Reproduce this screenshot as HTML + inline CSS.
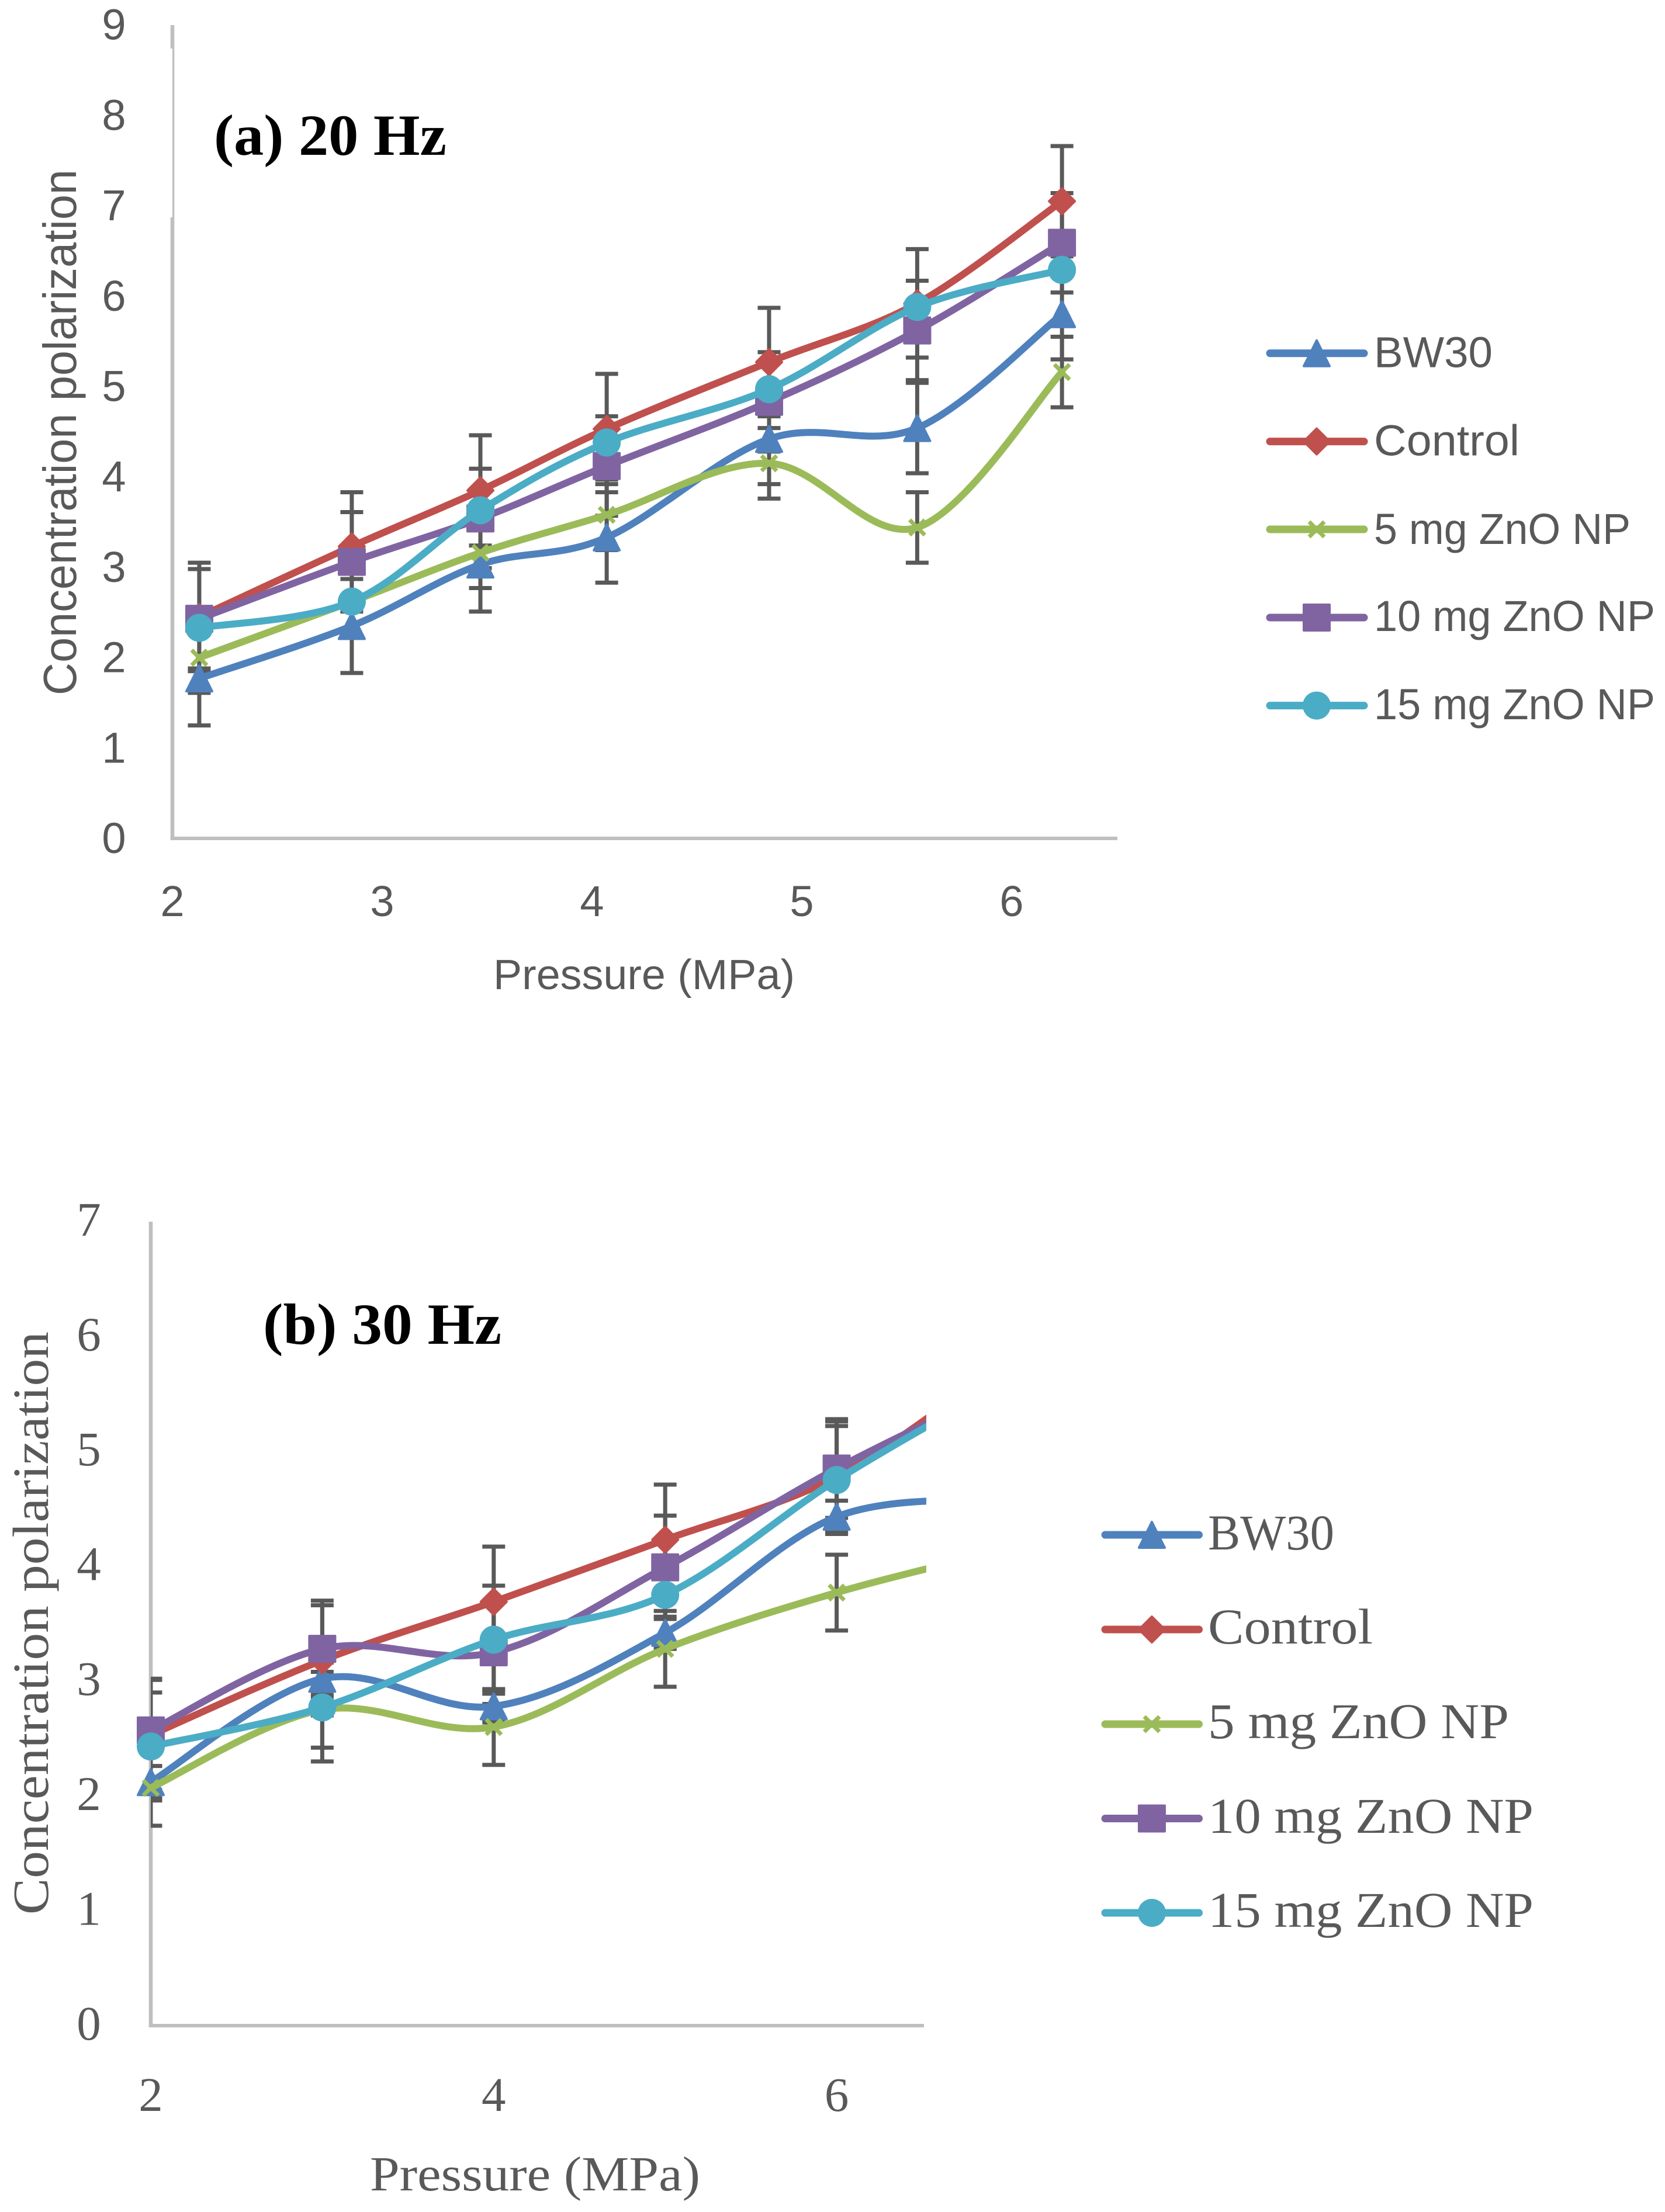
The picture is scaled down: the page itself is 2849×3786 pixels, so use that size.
<!DOCTYPE html>
<html lang="en">
<head>
<meta charset="utf-8">
<title>Concentration polarization vs pressure</title>
<style>
html,body{margin:0;padding:0;background:#fff;}
svg{display:block;}
</style>
</head>
<body>
<svg id="figure" xmlns="http://www.w3.org/2000/svg" width="2849" height="3786" viewBox="0 0 2849 3786">
  <rect x="0" y="0" width="2849" height="3786" fill="#ffffff"/>
  <defs>
    <clipPath id="clip-b-lines"><rect x="0" y="2000" width="1585" height="1500"/></clipPath>
    <clipPath id="clip-b-bars"><rect x="258" y="2000" width="1327" height="1500"/></clipPath>
  </defs>
  <g id="chart-a"></g>
  <g id="chart-b"></g>
</svg>
<script>
// ---------- Chart (a) 20 Hz data ----------
const aPressure = [2.128, 2.855, 3.468, 4.07, 4.844, 5.55, 6.24];
const aBW30    = [1.77, 2.35, 3.03, 3.33, 4.42, 4.54, 5.80];
const aControl = [2.45, 3.23, 3.85, 4.53, 5.27, 5.92, 7.05];
const a5mg     = [2.00, 2.62, 3.16, 3.58, 4.15, 3.44, 5.16];
const a10mg    = [2.43, 3.06, 3.54, 4.12, 4.83, 5.62, 6.59];
const a15mg    = [2.33, 2.62, 3.63, 4.38, 4.97, 5.88, 6.29];
const aBW30Err    = [0.52, 0.52, 0.52, 0.5, 0.5, 0.5, 0.5];
const aControlErr = [0.6, 0.6, 0.61, 0.61, 0.6, 0.6, 0.61];
const a5mgErr     = [0.39, 0.39, 0.39, 0.39, 0.39, 0.39, 0.39];
const a10mgErr    = [0.55, 0.55, 0.55, 0.55, 0.55, 0.55, 0.55];
const aYTicks = [0, 1, 2, 3, 4, 5, 6, 7, 8, 9];
const aXTicks = [2, 3, 4, 5, 6];

// ---------- Chart (b) 30 Hz data ----------
const bPressure = [2, 3, 4, 5, 6, 7];
const bBW30    = [2.12, 3.02, 2.78, 3.42, 4.43, 4.58];
const bControl = [2.53, 3.18, 3.69, 4.23, 4.78, 5.80];
const b5mg     = [2.07, 2.75, 2.60, 3.28, 3.77, 4.15];
const b10mg    = [2.57, 3.28, 3.25, 3.99, 4.85, 5.58];
const b15mg    = [2.43, 2.77, 3.36, 3.75, 4.75, 5.62];
const bBW30Err    = [0.14, 0.14, 0.14, 0.14, 0.14, 0.14];
const bControlErr = [0.48, 0.48, 0.48, 0.48, 0.48, 0.48];
const b5mgErr     = [0.33, 0.33, 0.33, 0.33, 0.33, 0.33];
const b10mgErr    = [0.45, 0.42, 0.45, 0.45, 0.43, 0.43];
const b15mgErr    = [0.47, 0.47, 0.47, 0.47, 0.47, 0.47];
const bYTicks = [0, 1, 2, 3, 4, 5, 6, 7];
const bXTicks = [2, 4, 6];

const seriesNames = ['BW30', 'Control', '5 mg ZnO NP', '10 mg ZnO NP', '15 mg ZnO NP'];
const seriesColors = ['#4f81bd', '#c0504d', '#9bbb59', '#8064a2', '#4bacc6'];
const seriesMarkers = ['triangle', 'diamond', 'cross', 'square', 'circle'];

const NS = 'http://www.w3.org/2000/svg';
const SANS = '"Liberation Sans", sans-serif';
const SERIF = '"Liberation Serif", serif';
const INK = '#595959';

function node(parent, tag, attrs) {
  const el = document.createElementNS(NS, tag);
  for (const k in attrs) el.setAttribute(k, attrs[k]);
  parent.appendChild(el);
  return el;
}
function label(parent, name, x, y, str, size, family, opts) {
  const o = opts || {};
  const el = node(parent, 'text', {x: x, y: y, 'font-size': size, 'font-family': family, fill: o.fill || INK});
  if (o.anchor) el.setAttribute('text-anchor', o.anchor);
  if (o.weight) el.setAttribute('font-weight', o.weight);
  if (o.len) { el.setAttribute('textLength', o.len); el.setAttribute('lengthAdjust', 'spacingAndGlyphs'); }
  if (o.rotate) el.setAttribute('transform', 'rotate(-90 ' + x + ' ' + y + ')');
  
  
  el.textContent = str;
  return el;
}
function smoothPath(pts) {
  let d = 'M' + pts[0][0] + ' ' + pts[0][1];
  for (let i = 0; i < pts.length - 1; i++) {
    const p0 = pts[Math.max(i - 1, 0)], p1 = pts[i], p2 = pts[i + 1], p3 = pts[Math.min(i + 2, pts.length - 1)];
    const c1x = p1[0] + (p2[0] - p0[0]) / 6, c1y = p1[1] + (p2[1] - p0[1]) / 6;
    const c2x = p2[0] - (p3[0] - p1[0]) / 6, c2y = p2[1] - (p3[1] - p1[1]) / 6;
    d += ' C' + c1x + ' ' + c1y + ' ' + c2x + ' ' + c2y + ' ' + p2[0] + ' ' + p2[1];
  }
  return d;
}
function marker(parent, kind, cx, cy, color, name) {
  let el;
  if (kind === 'circle') {
    el = node(parent, 'circle', {cx: cx, cy: cy, r: 24, fill: color});
  } else if (kind === 'cross') {
    const h = 13;
    el = node(parent, 'path', {
      d: 'M' + (cx - h) + ' ' + (cy - h) + ' L' + (cx + h) + ' ' + (cy + h) + ' M' + (cx - h) + ' ' + (cy + h) + ' L' + (cx + h) + ' ' + (cy - h),
      fill: 'none', stroke: color, 'stroke-width': 7
    });
  } else {
    const h = 22;
    let d;
    if (kind === 'square') d = 'M' + (cx - h) + ' ' + (cy - h) + ' H' + (cx + h) + ' V' + (cy + h) + ' H' + (cx - h) + ' Z';
    if (kind === 'diamond') d = 'M' + cx + ' ' + (cy - h) + ' L' + (cx + h) + ' ' + cy + ' L' + cx + ' ' + (cy + h) + ' L' + (cx - h) + ' ' + cy + ' Z';
    if (kind === 'triangle') d = 'M' + cx + ' ' + (cy - h) + ' L' + (cx + h) + ' ' + (cy + h) + ' L' + (cx - h) + ' ' + (cy + h) + ' Z';
    el = node(parent, 'path', {d: d, fill: color, stroke: color, 'stroke-width': 4, 'stroke-linejoin': 'round'});
  }
  
  
  return el;
}

function drawChart(cfg) {
  const root = document.getElementById(cfg.id);
  const xAt = function (v) { return cfg.x0 + (v - cfg.xMin) * cfg.xUnit; };
  const yAt = function (v) { return cfg.y0 - v * cfg.yUnit; };
  const xLimit = cfg.xMaxMarker;

  // axes
  const yAxis = node(root, 'rect', {x: cfg.x0 - 3.3, y: cfg.axisTop, width: 6.6, height: cfg.y0 - cfg.axisTop + 3, fill: '#bfbfbf'});
  
  
  const xAxis = node(root, 'rect', {x: cfg.x0 - 3.3, y: cfg.y0 - 3, width: cfg.axisRight - cfg.x0 + 3.3, height: 6, fill: '#bfbfbf'});
  
  
  if (cfg.mask) {
    const mask = node(root, 'rect', cfg.mask);
    mask.setAttribute('fill', '#ffffff');
    
    
  }

  // tick labels
  cfg.yTicks.forEach(function (t) {
    label(root, 'y-tick-' + t, cfg.yLabelX, yAt(t) + cfg.yLabelDy, String(t), cfg.tickSize, cfg.font, {anchor: 'middle'});
  });
  cfg.xTicks.forEach(function (t) {
    label(root, 'x-tick-' + t, xAt(t), cfg.xLabelY, String(t), cfg.tickSize, cfg.font, {anchor: 'middle'});
  });

  // error bars behind all series
  const barsLayer = node(root, 'g', {});
  
  
  if (cfg.barClip) barsLayer.setAttribute('clip-path', 'url(#' + cfg.barClip + ')');
  cfg.series.forEach(function (vals, s) {
    const errs = cfg.errors[s];
    if (!errs) return;
    vals.forEach(function (v, i) {
      const x = xAt(cfg.pressure[i]);
      const top = yAt(v + errs[i]), bot = yAt(v - errs[i]);
      const bar = node(barsLayer, 'path', {
        d: 'M' + x + ' ' + top + ' V' + bot + ' M' + (x - 19.5) + ' ' + top + ' H' + (x + 19.5) + ' M' + (x - 19.5) + ' ' + bot + ' H' + (x + 19.5),
        fill: 'none', stroke: INK, 'stroke-width': 7
      });
      
      
    });
  });

  // series
  cfg.series.forEach(function (vals, s) {
    const group = node(root, 'g', {});
    
    
    const pts = vals.map(function (v, i) { return [xAt(cfg.pressure[i]), yAt(v)]; });
    const line = node(group, 'path', {d: smoothPath(pts), fill: 'none', stroke: seriesColors[s], 'stroke-width': cfg.lineWidth, 'stroke-linecap': 'round', 'stroke-linejoin': 'round'});
    
    
    if (cfg.lineClip) line.setAttribute('clip-path', 'url(#' + cfg.lineClip + ')');
    pts.forEach(function (p, i) {
      if (cfg.pressure[i] > xLimit) return;
      marker(group, seriesMarkers[s], p[0], p[1], seriesColors[s], 'data-point');
    });
  });

  // legend
  seriesNames.forEach(function (name, s) {
    const g = node(root, 'g', {});
    
    
    const ly = cfg.legend.rows[s];
    const sw = node(g, 'line', {x1: cfg.legend.x1 + 6, x2: cfg.legend.x2 - 6, y1: ly, y2: ly, stroke: seriesColors[s], 'stroke-width': 13, 'stroke-linecap': 'round'});
    
    
    marker(g, seriesMarkers[s], (cfg.legend.x1 + cfg.legend.x2) / 2 + cfg.legend.mdx, ly, seriesColors[s], 'legend-marker');
    label(g, 'legend-label', cfg.legend.textX, cfg.legend.base[s], name, cfg.legend.size, cfg.font, {len: cfg.legend.widths[s]});
  });

  // titles
  label(root, 'y-axis-title', cfg.yTitle.x, cfg.yTitle.y, 'Concentration polarization', cfg.yTitle.size, cfg.font, {rotate: true, len: cfg.yTitle.len});
  label(root, 'x-axis-title', cfg.xTitle.x, cfg.xTitle.y, 'Pressure (MPa)', cfg.xTitle.size, cfg.font, {len: cfg.xTitle.len});
  label(root, 'chart-title', cfg.title.x, cfg.title.y, cfg.title.text, cfg.title.size, SERIF, {weight: 'bold', fill: '#000000', len: cfg.title.len});
}

drawChart({
  id: 'chart-a', font: SANS, pressure: aPressure,
  series: [aBW30, aControl, a5mg, a10mg, a15mg],
  errors: [aBW30Err, aControlErr, a5mgErr, a10mgErr, null],
  x0: 295, xMin: 2, xUnit: 359, y0: 1435, yUnit: 154.7,
  axisTop: 43, axisRight: 1912, xMaxMarker: 6.5,
  mask: {x: 285, y: 83, width: 10, height: 289},
  yTicks: aYTicks, xTicks: aXTicks, tickSize: 74,
  yLabelX: 195, yLabelDy: 25, xLabelY: 1568, lineWidth: 12,
  legend: {x1: 2167, x2: 2340, mdx: -0.5, rows: [604.6, 755.6, 906, 1057, 1207.6],
    textX: 2351, base: [628.6, 779.6, 931, 1080, 1231], size: 74, widths: [203, 249, 439, 481, 481]},
  yTitle: {x: 130, y: 1190, size: 80, len: 900},
  xTitle: {x: 844, y: 1693, size: 72, len: 516},
  title: {x: 366, y: 265, text: '(a) 20 Hz', size: 100, len: 398}
});

drawChart({
  id: 'chart-b', font: SERIF, pressure: bPressure,
  series: [bBW30, bControl, b5mg, b10mg, b15mg],
  errors: [bBW30Err, bControlErr, b5mgErr, b10mgErr, b15mgErr],
  x0: 258, xMin: 2, xUnit: 293.4, y0: 3467, yUnit: 196.6,
  axisTop: 2091, axisRight: 1581, xMaxMarker: 6.5,
  lineClip: 'clip-b-lines', barClip: 'clip-b-bars',
  yTicks: bYTicks, xTicks: bXTicks, tickSize: 83,
  yLabelX: 152, yLabelDy: 24, xLabelY: 3613, lineWidth: 12,
  legend: {x1: 1885, x2: 2057.5, mdx: -0.3, rows: [2627, 2789, 2951, 3112.5, 3274],
    textX: 2067, base: [2652, 2813, 2975, 3137, 3298], size: 86, widths: [216, 282, 515, 557, 557]},
  yTitle: {x: 82, y: 3277, size: 87, len: 998},
  xTitle: {x: 633, y: 3749, size: 84, len: 565},
  title: {x: 450, y: 2300, text: '(b) 30 Hz', size: 100, len: 408}
});
</script>
</body>
</html>
